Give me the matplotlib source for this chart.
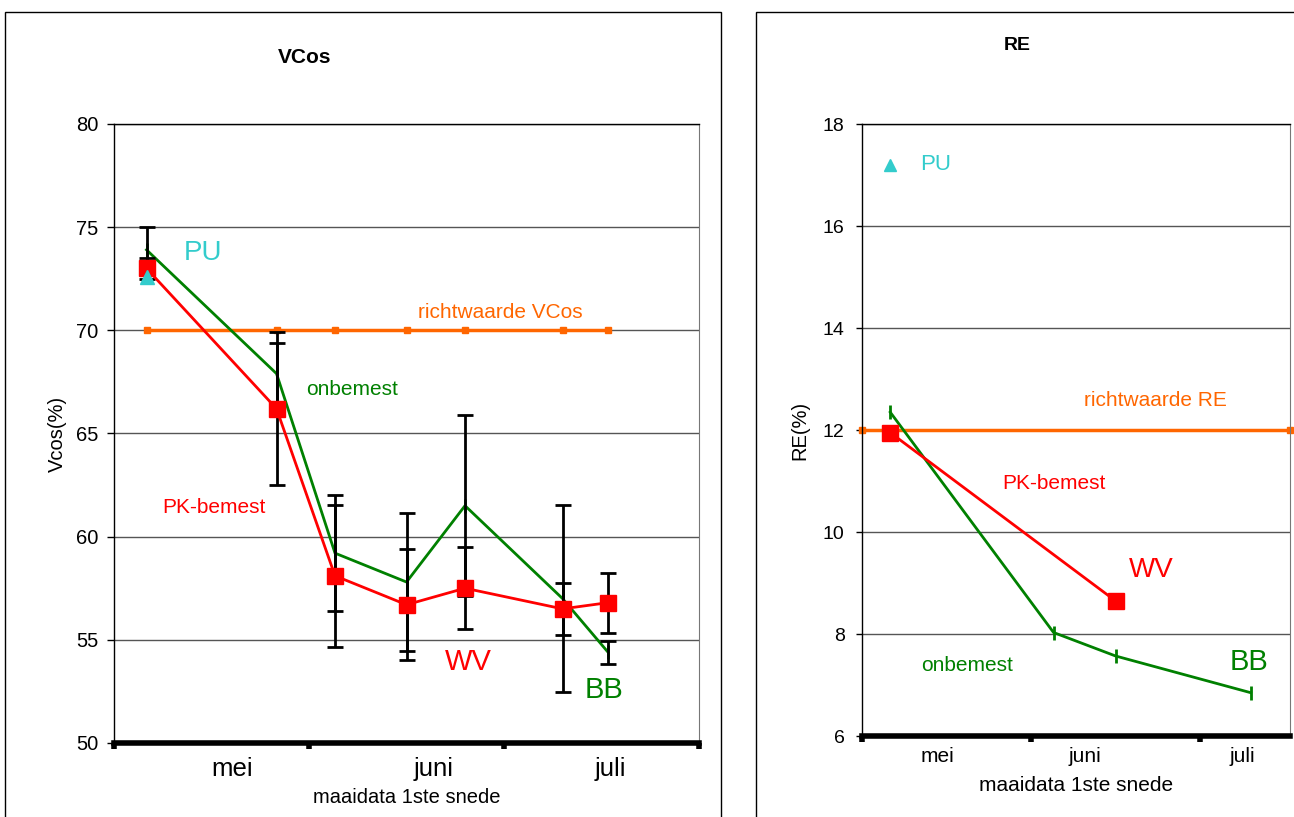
import matplotlib
matplotlib.use("Agg")
import matplotlib.pyplot as plt
from matplotlib.patches import Rectangle

plt.rcParams['font.family'] = ['Liberation Sans', 'DejaVu Sans']

# cutting dates, days after mid-April
days = [5, 25, 34, 45, 54, 69, 76]

# VCos (%) per treatment, with spread
vcos_pk = [73.0, 66.2, 58.1, 56.7, 57.5, 56.5, 56.8]
vcos_pk_err = [0.5, 3.7, 3.45, 2.7, 2.0, 1.25, 1.45]
vcos_on = [73.9, 67.9, 59.2, 57.8, 61.5, 57.0, 54.4]
vcos_on_err = [1.1, 1.5, 2.8, 3.33, 4.4, 4.55, 0.55]
vcos_pu_day = [5]
vcos_pu = [72.6]
vcos_norm = 70

# RE (%)
re_pk_days = [5, 45]
re_pk = [11.95, 8.65]
re_on_days = [5, 34, 45, 69]
re_on = [12.35, 8.03, 7.57, 6.85]
re_pu_day = [5]
re_pu = [17.2]
re_norm = 12

months = ["mei", "juni", "juli"]
vcos_month_pos = [18.2, 49.1, 76.3]
re_month_pos = [13.3, 39.6, 67.5]

RED = "#ff0000"
GREEN = "#008000"
ORANGE = "#ff6600"
CYAN = "#33cccc"

fig = plt.figure(figsize=(12.94, 8.17), dpi=100)

# panel frames
for x0, w in [(0.004, 0.553), (0.584, 0.43)]:
    fig.patches.append(Rectangle((x0, -0.05), w, 1.035, transform=fig.transFigure,
                                 fill=False, edgecolor="black", lw=1))

ax1 = fig.add_axes([0.0881, 0.0906, 0.4521, 0.7577])
ax2 = fig.add_axes([0.6662, 0.0991, 0.3308, 0.7491])


def style_axis(ax, xmax, ylim, yticks, month_pos):
    ax.set_yticks(yticks)
    ax.yaxis.grid(True, color="#555555", lw=1)
    ax.set_axisbelow(True)
    ax.spines['bottom'].set_linewidth(4)
    ax.spines['left'].set_linewidth(1)
    ax.spines['top'].set_linewidth(1)
    ax.spines['right'].set_color("#777777")
    ax.set_xticks([t for t in (0, 30, 60, 90) if t <= xmax])
    ax.set_xticklabels([])
    ax.tick_params(axis='x', which='major', direction='out', length=4, width=4)
    ax.set_xticks(month_pos, minor=True)
    ax.set_xticklabels(months, minor=True)
    ax.tick_params(axis='x', which='minor', length=0)
    ax.set_xlim(0, xmax)
    ax.set_ylim(*ylim)


# --- VCos ---
style_axis(ax1, 90, (50, 80), range(50, 81, 5), vcos_month_pos)
ax1.tick_params(axis='x', which='minor', labelsize=18.5, pad=10)
ax1.tick_params(axis='y', direction='out', length=5, width=1, pad=6, labelsize=14.5)

ax1.plot(days, [vcos_norm] * len(days), color=ORANGE, lw=2.5, marker='s',
         ms=4, zorder=2)
ax1.plot(days, vcos_on, color=GREEN, lw=2, marker='|', ms=10, mew=2, zorder=3)
ax1.errorbar(days, vcos_on, yerr=vcos_on_err, fmt='none', ecolor='black',
             elinewidth=2, capsize=6, capthick=2, zorder=4)
ax1.errorbar(days, vcos_pk, yerr=vcos_pk_err, fmt='none', ecolor='black',
             elinewidth=2, capsize=6, capthick=2, zorder=4)
ax1.plot(days, vcos_pk, color=RED, lw=2, marker='s', ms=11, zorder=5)
ax1.plot(vcos_pu_day, vcos_pu, linestyle='none', marker='^', color=CYAN,
         ms=10, zorder=6)

ax1.text(13.7, 73.75, "PU", color=CYAN, fontsize=20, ha='center', va='center')
ax1.text(59.4, 70.84, "richtwaarde VCos", color=ORANGE, fontsize=15,
         ha='center', va='center')
ax1.text(36.6, 67.15, "onbemest", color=GREEN, fontsize=15, ha='center', va='center')
ax1.text(15.4, 61.39, "PK-bemest", color=RED, fontsize=15, ha='center', va='center')
ax1.text(54.5, 53.92, "WV", color=RED, fontsize=21, ha='center', va='center')
ax1.text(75.4, 52.56, "BB", color=GREEN, fontsize=21, ha='center', va='center')

ax1.text(0.325, 1.107, "VCos", transform=ax1.transAxes, fontsize=15,
         fontweight='bold', ha='center', va='center')
ax1.set_ylabel("Vcos(%)", fontsize=14.5, labelpad=7)
ax1.set_xlabel("maaidata 1ste snede", fontsize=14.5, labelpad=5)

# --- RE ---
style_axis(ax2, 76, (6, 18), range(6, 19, 2), re_month_pos)
ax2.tick_params(axis='x', which='minor', labelsize=15, pad=8)
ax2.tick_params(axis='y', direction='out', length=4.5, width=1, pad=8, labelsize=14)

ax2.plot([0, 76], [re_norm, re_norm], color=ORANGE, lw=2.5, marker='s', ms=4,
         zorder=2, clip_on=False)
ax2.plot(re_on_days, re_on, color=GREEN, lw=2, marker='|', ms=10, mew=2, zorder=3)
ax2.plot(re_pk_days, re_pk, color=RED, lw=2, marker='s', ms=11, zorder=5)
ax2.plot(re_pu_day, re_pu, linestyle='none', marker='^', color=CYAN, ms=9, zorder=6)

ax2.text(13.1, 17.2, "PU", color=CYAN, fontsize=16, ha='center', va='center')
ax2.text(52.0, 12.57, "richtwaarde RE", color=ORANGE, fontsize=15,
         ha='center', va='center')
ax2.text(34.1, 10.96, "PK-bemest", color=RED, fontsize=15, ha='center', va='center')
ax2.text(51.3, 9.25, "WV", color=RED, fontsize=20, ha='center', va='center')
ax2.text(18.6, 7.39, "onbemest", color=GREEN, fontsize=15, ha='center', va='center')
ax2.text(68.7, 7.45, "BB", color=GREEN, fontsize=21, ha='center', va='center')

ax2.text(0.362, 1.129, "RE", transform=ax2.transAxes, fontsize=14,
         fontweight='bold', ha='center', va='center')
ax2.set_ylabel("RE(%)", fontsize=14.5, labelpad=10)
ax2.set_xlabel("maaidata 1ste snede", fontsize=15, labelpad=7)

fig.savefig("out.png", dpi=100)
